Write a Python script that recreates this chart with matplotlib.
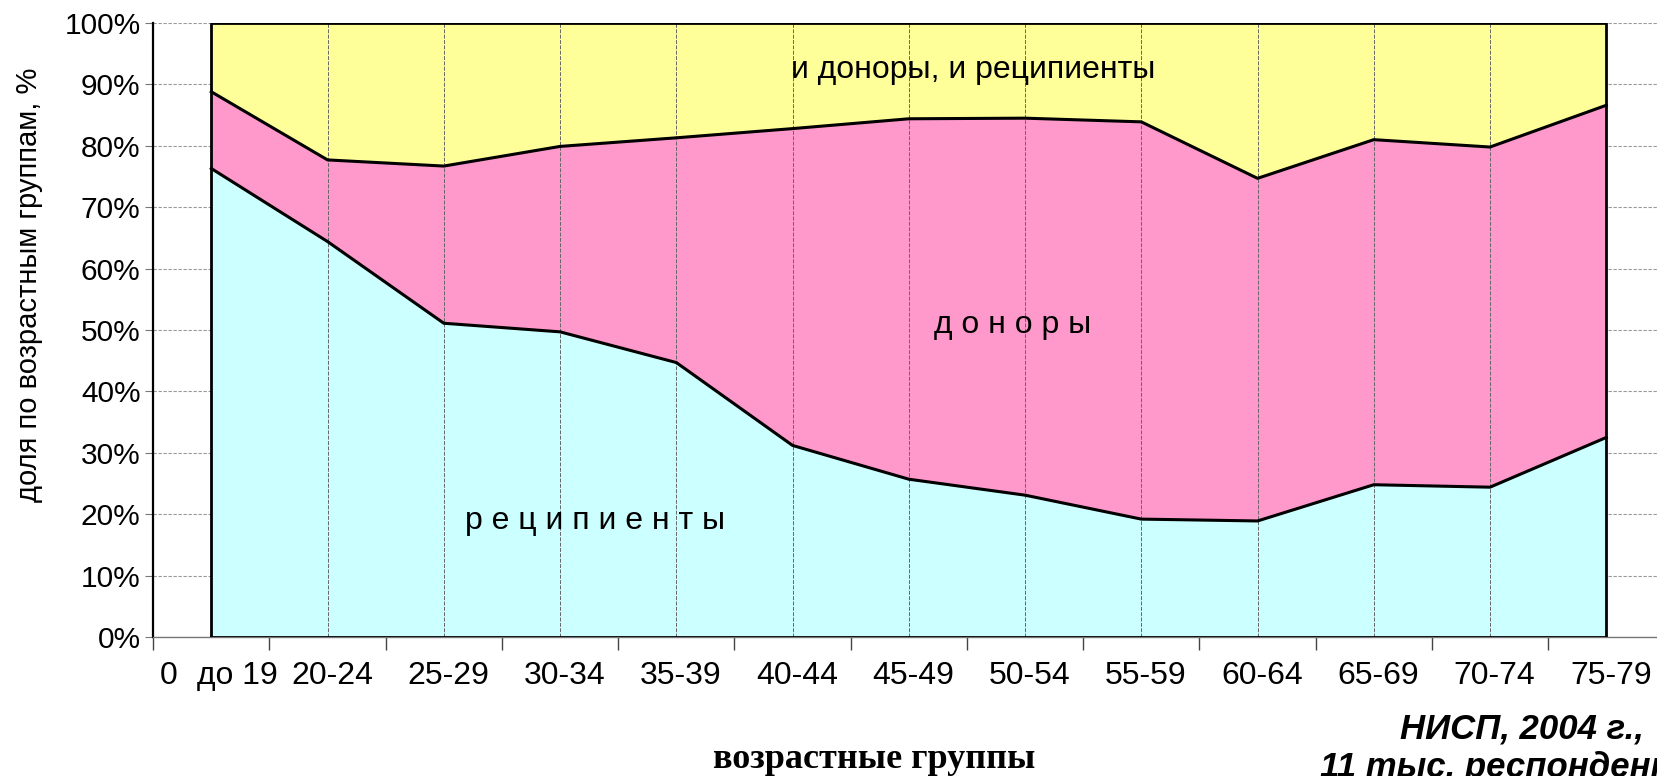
import matplotlib
matplotlib.use("Agg")
import matplotlib.pyplot as plt
import numpy as np

# age groups and shares (%)
groups = ["до 19", "20-24", "25-29", "30-34", "35-39", "40-44", "45-49",
          "50-54", "55-59", "60-64", "65-69", "70-74", "75-79"]
recipients = [76.3, 64.4, 51.1, 49.7, 44.7, 31.2, 25.7, 23.1, 19.2, 18.9, 24.8, 24.4, 32.5]
donors = [12.5, 13.3, 25.6, 30.2, 36.6, 51.6, 58.7, 61.4, 64.7, 55.8, 56.2, 55.4, 54.1]
both = [11.2, 22.3, 23.3, 20.1, 18.7, 17.2, 15.6, 15.5, 16.1, 25.3, 19.0, 20.2, 13.4]
yticks = list(range(0, 101, 10))

colors = ['#CCFFFF', '#FF99CC', '#FFFF99']
sans = 'Liberation Sans'

fig = plt.figure(figsize=(16.57, 7.76), dpi=100)
ax = fig.add_axes([153.2 / 1657, 139 / 776, 1511.2 / 1657, 614 / 776])

x = np.arange(len(groups))
r = np.array(recipients)
d = r + np.array(donors)
t = d + np.array(both)

ax.fill_between(x, 0, r, color=colors[0], lw=0, zorder=2)
ax.fill_between(x, r, d, color=colors[1], lw=0, zorder=2)
ax.fill_between(x, d, t, color=colors[2], lw=0, zorder=2)

# thin verticals at each category inside the area
for xi in x[1:-1]:
    ax.plot([xi, xi], [0, 100], color='#666666', lw=0.7, ls=(0, (4, 1.5)), zorder=3)

ax.plot(x, r, color='black', lw=2.2, zorder=4)
ax.plot(x, d, color='black', lw=2.2, zorder=4)
# outline of the area
ax.plot([x[0], x[0], x[-1], x[-1], x[0]], [0, 100, 100, 0, 0], color='black', lw=2, zorder=4)

ax.set_xlim(-0.5, 12.5)
ax.set_ylim(0, 100)
ax.set_axisbelow(True)
ax.yaxis.grid(True, color='#9a9a9a', ls=(0, (3, 1.5)), lw=0.8)

for s in ['top', 'right']:
    ax.spines[s].set_visible(False)
ax.spines['left'].set_color('black')
ax.spines['left'].set_linewidth(1.6)
ax.spines['bottom'].set_color('#777777')
ax.spines['bottom'].set_linewidth(1.0)

ax.set_yticks(yticks)
ax.set_yticklabels([f'{v}%' for v in yticks], fontsize=21.5, family=sans)
ax.tick_params(axis='y', direction='out', length=6, color='#777777', pad=3)
ax.set_xticks(np.arange(-0.5, 13, 1.0))
ax.set_xticklabels([])
ax.tick_params(axis='x', direction='out', length=9, color='#444444', width=1)

tr = ax.get_xaxis_transform()
ax.text(-0.37, -0.063, "0", transform=tr, ha='center', va='center', fontsize=23, family=sans)
for i, g in enumerate(groups):
    xo = i + (0.22 if i == 0 else 0.04)
    ax.text(xo, -0.063, g, transform=tr, ha='center', va='center', fontsize=23, family=sans)

ax.text(6.55, 92.4, "и доноры, и реципиенты", ha='center', va='center', fontsize=23, family=sans, zorder=5)
ax.text(6.89, 50.8, "д о н о р ы", ha='center', va='center', fontsize=23, family=sans, zorder=5)
ax.text(3.3, 18.9, "р е ц и п и е н т ы", ha='center', va='center', fontsize=23, family=sans, zorder=5)

fig.text(29 / 1657, 1 - 285 / 776, "доля по возрастным группам, %", rotation=90,
         ha='center', va='center', fontsize=21, family=sans)
fig.text(874 / 1657, 1 - 760 / 776, "возрастные группы", ha='center', va='center',
         fontsize=26, family='Liberation Serif', fontweight='bold')
fig.text(1522 / 1657, 1 - 712 / 776, "НИСП, 2004 г.,\n11 тыс. респондентов", ha='center', va='top',
         fontsize=25, family=sans, fontweight='bold', fontstyle='italic', linespacing=1.25)

fig.savefig('out.png', dpi=100)
